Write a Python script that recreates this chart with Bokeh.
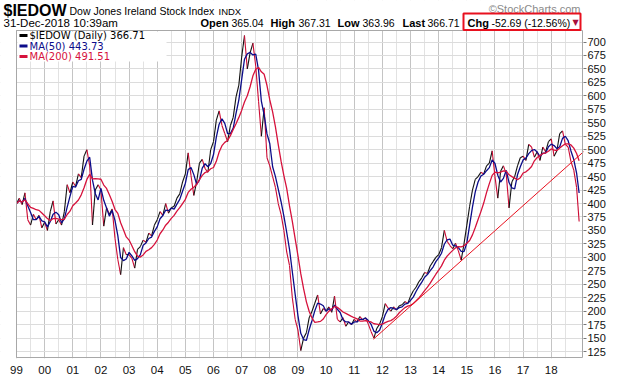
import numpy as np
import pandas as pd
from bokeh.plotting import figure
from bokeh.models import Range1d, FixedTicker, Label, BoxAnnotation, ColumnDataSource
from bokeh.embed import file_html
from bokeh.resources import INLINE

# ---------------- data ----------------
# price sampled every 0.1 year, one row per year
price_1999_2003 = [
    400, 410, 398, 420, 370, 360, 380, 370, 378, 355,
    365, 350, 385, 405, 362, 370, 360, 385, 435, 420,
    440, 432, 455, 448, 488, 500, 470, 360, 425, 435,
    425, 358, 392, 380, 390, 335, 296, 268, 318, 305,
    305, 298, 280, 315, 320, 332, 328, 345, 340, 360,
]
price_2004_2008 = [
    370, 385, 378, 400, 382, 392, 395, 410, 418, 440,
    455, 494, 452, 415, 440, 475, 482, 465, 458, 500,
    515, 555, 572, 545, 530, 515, 545, 560, 598, 620,
    672, 712, 650, 680, 698, 655, 590, 525, 578, 485,
    470, 450, 430, 400, 380, 350, 310, 285, 225, 185,
]
price_2009_2013 = [
    165, 127, 150, 160, 188, 200, 215, 230, 195, 205,
    200, 208, 198, 228, 185, 180, 188, 172, 180, 175,
    185, 180, 190, 184, 188, 176, 162, 150, 168, 176,
    190, 214, 206, 200, 208, 202, 210, 212, 218, 214,
    228, 238, 245, 255, 262, 272, 270, 284, 292, 300,
]
price_2014_2018 = [
    305, 318, 350, 330, 322, 316, 326, 312, 295, 325,
    360, 395, 425, 445, 450, 458, 455, 470, 475, 498,
    450, 410, 460, 470, 455, 392, 440, 450, 470, 485,
    488, 480, 510, 505, 486, 496, 480, 505, 496, 515,
    520, 488, 498, 530, 535, 510, 505, 478, 462, 430,
]
last_year, last_price = 2018.99, 366.71

trend_x = [2011.68, 2020.45]
trend_y = [148, 557]

year_ticks = list(range(1999, 2019))
year_labels = ["99", "00", "01", "02", "03", "04", "05", "06", "07", "08",
               "09", "10", "11", "12", "13", "14", "15", "16", "17", "18"]
half_ticks = [y + 0.5 for y in range(1999, 2019)]
y_ticks = list(range(125, 701, 25))
x_lo, x_hi = 1999.0, 2019.11     # plot box x extent
y_lo, y_hi = 114, 718            # plot box y extent

legend_rows = [("$IEDOW (Daily) 366.71", "#000000"),
               ("MA(50) 443.73", "#0c0c8a"),
               ("MA(200) 491.51", "#d6123c")]

# ---------------- build series ----------------
price = np.array(price_1999_2003 + price_2004_2008 + price_2009_2013 + price_2014_2018 + [last_price], dtype=float)
t = np.array([y + k / 10 for y in range(1999, 2019) for k in range(10)] + [last_year])

whole = np.floor(t + 1e-9).astype(int)
dates = pd.to_datetime([f"{w}-01-01" for w in whole]) + pd.to_timedelta((t - whole) * 365.25, unit="D")
s = pd.Series(price, index=dates)
ma50 = s.rolling("80D").mean().values     # ~50 trading days
ma200 = s.rolling("300D").mean().values   # ~200 trading days

up = price[1:] >= price[:-1]
seg = ColumnDataSource(dict(x0=t[:-1], x1=t[1:], y0=price[:-1], y1=price[1:],
                            c=np.where(up, "#111111", "#cc0a33")))

# ---------------- layout in page pixels ----------------
W, H = 620, 376
BOX_L, BOX_R, BOX_T, BOX_B = 16, 582, 32, 359   # plot box on the page
FR_R, FR_B = 583, 360                            # frame spans x 0..583, y 0..360
kx = (BOX_R - BOX_L) / (x_hi - x_lo)
ky = (BOX_B - BOX_T) / (y_hi - y_lo)
xr = Range1d(x_lo - BOX_L / kx, x_lo + (FR_R - BOX_L) / kx)
yr = Range1d(y_lo - (FR_B - BOX_B) / ky, y_lo + BOX_B / ky)

p = figure(width=W, height=H, output_backend="svg", toolbar_location=None,
           x_range=xr, y_range=yr, y_axis_location="right",
           min_border_left=0, min_border_right=W - FR_R, min_border_top=0, min_border_bottom=H - FR_B,
           background_fill_color="white", border_fill_color="white")
p.outline_line_color = None

p.xaxis.ticker = FixedTicker(ticks=year_ticks, minor_ticks=half_ticks)
p.xaxis.major_label_overrides = {y: l for y, l in zip(year_ticks, year_labels)}
p.xaxis.major_tick_line_color = None
p.xaxis.minor_tick_line_color = None
p.xaxis.axis_line_color = None
p.xaxis.major_label_text_font = "Liberation Sans"
p.xaxis.major_label_text_font_size = "11.5px"
p.xaxis.major_label_text_color = "#111111"
p.xaxis.major_label_standoff = 1

p.yaxis.ticker = FixedTicker(ticks=y_ticks)
p.yaxis.major_tick_out = 3
p.yaxis.major_tick_in = 0
p.yaxis.major_tick_line_color = "#777777"
p.yaxis.minor_tick_line_color = None
p.yaxis.axis_line_color = None
p.yaxis.major_label_text_font = "Liberation Sans"
p.yaxis.major_label_text_font_size = "11px"
p.yaxis.major_label_text_color = "#111111"
p.yaxis.major_label_standoff = 1

p.xgrid.grid_line_color = "#c4c4c4"
p.xgrid.minor_grid_line_color = "#e2e2e2"
p.ygrid.grid_line_color = "#dcdcdc"

p.segment("x0", "y0", "x1", "y1", color="c", source=seg, line_width=1.1)
p.line(t, ma50, color="#0c0c8a", line_width=1.3)
p.line(t, ma200, color="#d6123c", line_width=1.3)
p.line(trend_x, trend_y, color="#e8101e", line_width=1)

# ---------------- annotations (page px -> frame screen coords) ----------------
def lab(x, y, text, size, bold=False, color="#000000", font="Liberation Sans", align="left"):
    p.add_layout(Label(x=x, y=FR_B - y, x_units="screen", y_units="screen", text=text,
                       text_font=font, text_font_size=size,
                       text_font_style="bold" if bold else "normal",
                       text_color=color, text_baseline="middle", text_align=align))

def box(x0, x1, y0, y1, fill=None, line=None, lw=1):
    p.add_layout(BoxAnnotation(left=x0, right=x1, top=FR_B - y0, bottom=FR_B - y1,
                               left_units="screen", right_units="screen",
                               top_units="screen", bottom_units="screen",
                               fill_color=fill or "white", fill_alpha=1 if fill else 0,
                               line_color=line or "white", line_width=lw,
                               line_alpha=1 if line else 0))

# white margins outside the plot box (header band and left strip)
box(0, FR_R, 0, BOX_T - 0.5, fill="white")
box(0, BOX_L - 0.5, 0, FR_B, fill="white")
# plot box outline
box(BOX_L, BOX_R, BOX_T, BOX_B, line="#a8a8a8")

# header line 1
lab(3, 11.5, "$IEDOW", "16px", bold=True)
lab(69, 12.5, "Dow Jones Ireland Stock Index", "10.5px")
lab(218, 12.5, "INDX", "9.5px")
lab(580, 10, "\u00a9StockCharts.com", "11px", color="#8a8a8a", align="right")

# header line 2
lab(3, 24, "31-Dec-2018 10:39am", "11.5px")
lab(200, 24, "Open", "11px", bold=True)
lab(231, 24, "365.04", "10.5px")
lab(270, 24, "High", "11px", bold=True)
lab(298, 24, "367.31", "10.5px")
lab(337, 24, "Low", "11px", bold=True)
lab(362, 24, "363.96", "10.5px")
lab(402, 24, "Last", "11px", bold=True)
lab(427, 24, "366.71", "10.5px")
box(463, 580, 15, 31.5, line="#e8101e", lw=2)
lab(467, 24, "Chg", "11px", bold=True)
lab(491, 24, "-52.69 (-12.56%)", "10.5px")
lab(572, 24, "\u25bc", "8px", color="#a8103a", font="DejaVu Sans")

# legend
box(17, 166, 33, 63, fill="white")
for i, (txt, col) in enumerate(legend_rows):
    yc = 37 + i * 10.5
    box(19, 27, yc - 1.5, yc + 1.5, fill=col)
    lab(29, yc, txt, "10px", color=col, font="DejaVu Sans")

open("out.html", "w").write(file_html(p, INLINE))
